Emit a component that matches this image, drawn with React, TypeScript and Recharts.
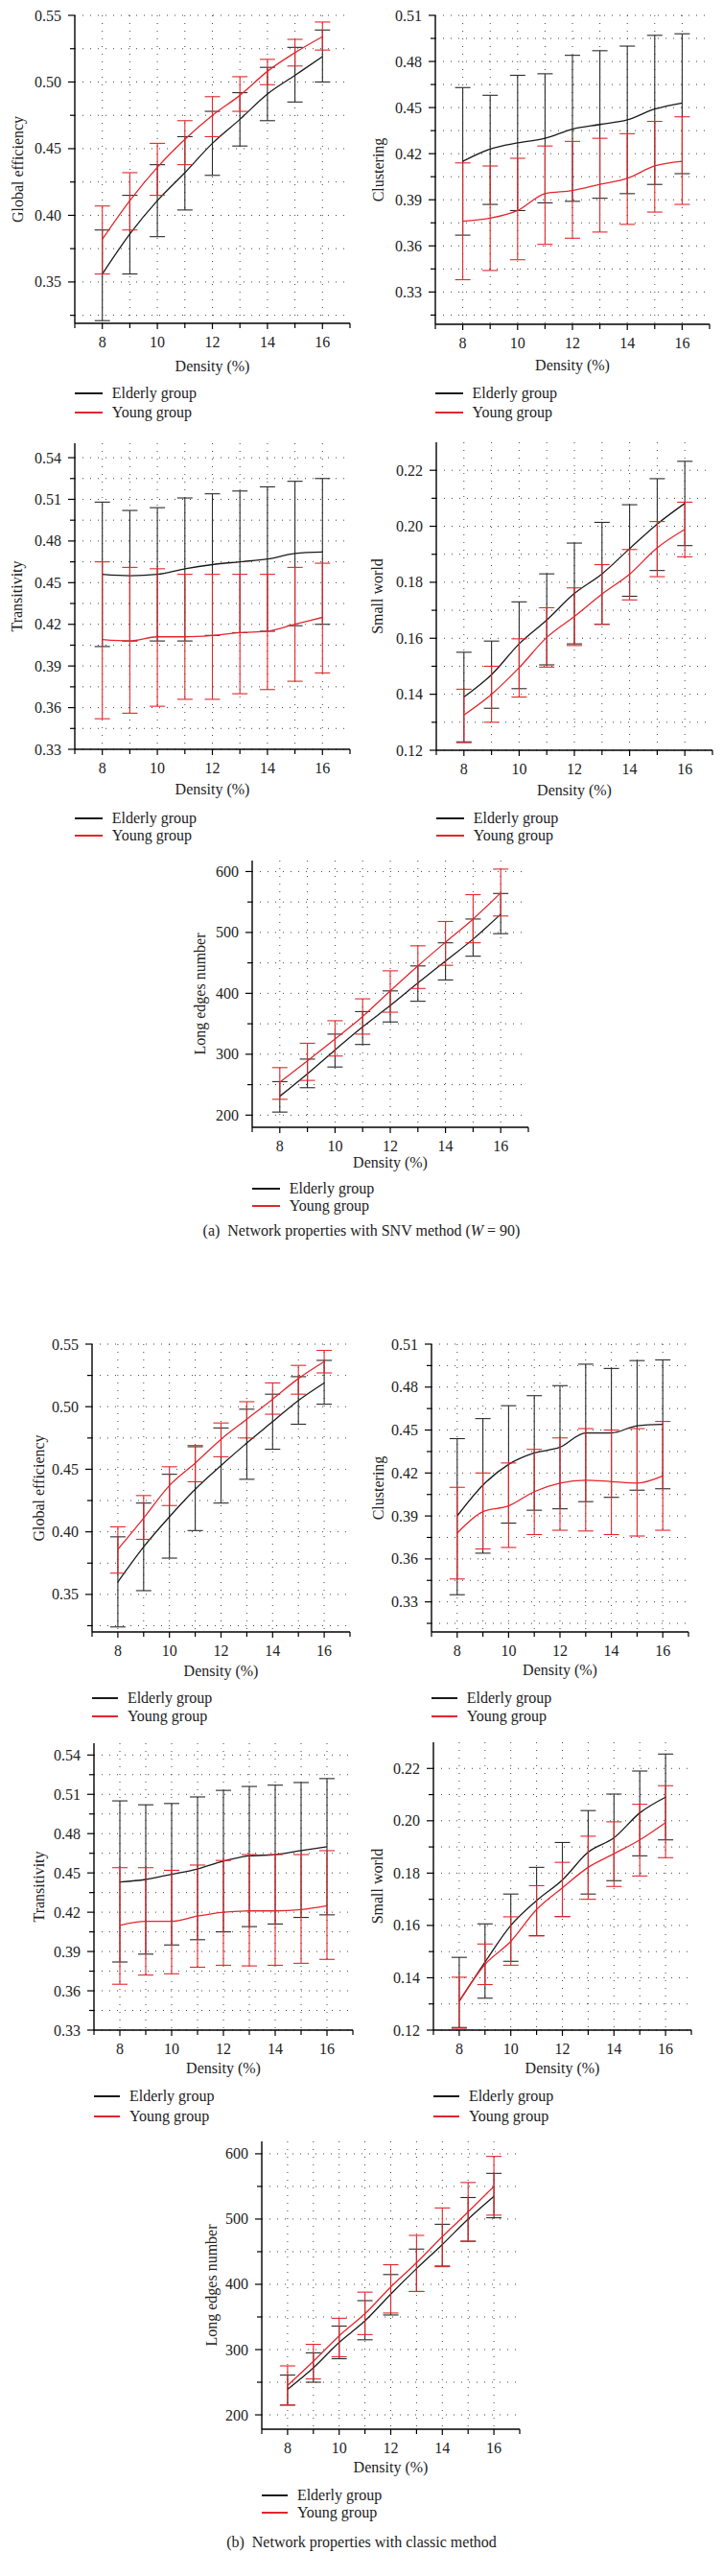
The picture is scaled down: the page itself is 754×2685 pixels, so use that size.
import React from 'react';
import { LineChart, Line, XAxis, YAxis, CartesianGrid, ErrorBar, Label } from 'recharts';

const FONT = '"Liberation Serif", "DejaVu Serif", serif';
const BLACK = '#1a1a1a';
const RED = '#e3262c';

// ---------- shared axis values ----------
const density = [8, 9, 10, 11, 12, 13, 14, 15, 16];
const densityTicks = [7, 8, 9, 10, 11, 12, 13, 14, 15, 16, 17];
const densityLabels = [8, 10, 12, 14, 16];
const densityGrid = [8, 9, 10, 11, 12, 13, 14, 15, 16];

const geMajor = [0.35, 0.4, 0.45, 0.5, 0.55];
const geMinor = [0.325, 0.375, 0.425, 0.475, 0.525];
const clMajor = [0.33, 0.36, 0.39, 0.42, 0.45, 0.48, 0.51];
const clMinor = [0.315, 0.345, 0.375, 0.405, 0.435, 0.465, 0.495];
const trMajor = [0.33, 0.36, 0.39, 0.42, 0.45, 0.48, 0.51, 0.54];
const trMinor = [0.345, 0.375, 0.405, 0.435, 0.465, 0.495, 0.525];
const swMajor = [0.12, 0.14, 0.16, 0.18, 0.2, 0.22];
const swMinor = [0.13, 0.15, 0.17, 0.19, 0.21];
const leMajor = [200, 300, 400, 500, 600];
const leMinor = [250, 350, 450, 550];

// ---------- (a) SNV method ----------
const geSnvEld = [0.356, 0.386, 0.411, 0.432, 0.454, 0.472, 0.491, 0.505, 0.519];
const geSnvEldHi = [0.389, 0.415, 0.438, 0.459, 0.478, 0.492, 0.511, 0.526, 0.539];
const geSnvEldLo = [0.321, 0.356, 0.384, 0.404, 0.43, 0.452, 0.471, 0.485, 0.5];
const geSnvYng = [0.382, 0.411, 0.436, 0.457, 0.475, 0.49, 0.508, 0.522, 0.534];
const geSnvYngHi = [0.407, 0.432, 0.454, 0.471, 0.489, 0.504, 0.517, 0.532, 0.545];
const geSnvYngLo = [0.356, 0.389, 0.415, 0.438, 0.459, 0.478, 0.498, 0.512, 0.524];

const clSnvEld = [0.415, 0.423, 0.427, 0.43, 0.436, 0.439, 0.442, 0.449, 0.453];
const clSnvEldHi = [0.463, 0.458, 0.471, 0.472, 0.484, 0.487, 0.49, 0.497, 0.498];
const clSnvEldLo = [0.367, 0.387, 0.383, 0.388, 0.389, 0.391, 0.394, 0.4, 0.407];
const clSnvYng = [0.376, 0.378, 0.383, 0.394, 0.396, 0.4, 0.404, 0.412, 0.415];
const clSnvYngHi = [0.414, 0.412, 0.417, 0.425, 0.428, 0.43, 0.433, 0.441, 0.444];
const clSnvYngLo = [0.338, 0.344, 0.351, 0.361, 0.365, 0.369, 0.374, 0.382, 0.387];

const trSnvEld = [0.456, 0.455, 0.456, 0.46, 0.463, 0.465, 0.467, 0.471, 0.472];
const trSnvEldHi = [0.508, 0.502, 0.504, 0.511, 0.514, 0.516, 0.519, 0.523, 0.525];
const trSnvEldLo = [0.404, 0.408, 0.408, 0.408, 0.412, 0.414, 0.415, 0.419, 0.42];
const trSnvYng = [0.409, 0.408, 0.411, 0.411, 0.412, 0.414, 0.415, 0.42, 0.425];
const trSnvYngHi = [0.465, 0.461, 0.46, 0.456, 0.456, 0.456, 0.456, 0.461, 0.464];
const trSnvYngLo = [0.352, 0.356, 0.361, 0.366, 0.366, 0.37, 0.373, 0.379, 0.385];

const swSnvEld = [0.139, 0.147, 0.158, 0.1665, 0.176, 0.183, 0.192, 0.2008, 0.2082];
const swSnvEldHi = [0.155, 0.159, 0.173, 0.183, 0.194, 0.2014, 0.2077, 0.217, 0.2232];
const swSnvEldLo = [0.123, 0.135, 0.142, 0.1505, 0.158, 0.165, 0.175, 0.1842, 0.1931];
const swSnvYng = [0.1326, 0.14, 0.1495, 0.1603, 0.1678, 0.1758, 0.1829, 0.1923, 0.1989];
const swSnvYngHi = [0.1418, 0.15, 0.1598, 0.1709, 0.178, 0.1863, 0.1917, 0.2017, 0.2086];
const swSnvYngLo = [0.1227, 0.13, 0.139, 0.1497, 0.1574, 0.165, 0.1737, 0.182, 0.1891];

const leSnvEld = [231, 268, 307, 345, 380, 417, 453, 489, 530];
const leSnvEldHi = [255, 292, 333, 370, 404, 445, 483, 522, 564];
const leSnvEldLo = [205, 245, 279, 316, 353, 387, 422, 461, 498];
const leSnvYng = [254, 289, 325, 362, 404, 445, 484, 522, 565];
const leSnvYngHi = [278, 318, 355, 391, 437, 478, 518, 562, 604];
const leSnvYngLo = [226, 257, 297, 333, 369, 408, 446, 483, 527];

// ---------- (b) classic method ----------
const geClsEld = [0.36, 0.388, 0.412, 0.434, 0.453, 0.471, 0.488, 0.505, 0.519];
const geClsEldHi = [0.396, 0.423, 0.446, 0.468, 0.483, 0.498, 0.51, 0.524, 0.537];
const geClsEldLo = [0.324, 0.353, 0.379, 0.401, 0.423, 0.442, 0.466, 0.486, 0.502];
const geClsYng = [0.386, 0.411, 0.437, 0.455, 0.474, 0.49, 0.506, 0.5225, 0.536];
const geClsYngHi = [0.404, 0.429, 0.452, 0.469, 0.487, 0.504, 0.519, 0.533, 0.545];
const geClsYngLo = [0.367, 0.394, 0.421, 0.44, 0.46, 0.475, 0.494, 0.51, 0.527];

const clClsEld = [0.39, 0.4115, 0.426, 0.434, 0.438, 0.448, 0.448, 0.453, 0.454];
const clClsEldHi = [0.444, 0.458, 0.467, 0.474, 0.481, 0.496, 0.493, 0.4985, 0.499];
const clClsEldLo = [0.335, 0.364, 0.385, 0.394, 0.395, 0.4, 0.403, 0.408, 0.409];
const clClsYng = [0.378, 0.393, 0.397, 0.407, 0.413, 0.415, 0.414, 0.413, 0.418];
const clClsYngHi = [0.41, 0.42, 0.427, 0.4365, 0.4445, 0.451, 0.45, 0.451, 0.456];
const clClsYngLo = [0.346, 0.367, 0.368, 0.377, 0.38, 0.3795, 0.377, 0.376, 0.38];

const trClsEld = [0.443, 0.445, 0.449, 0.453, 0.459, 0.463, 0.464, 0.467, 0.47];
const trClsEldHi = [0.505, 0.502, 0.503, 0.508, 0.513, 0.516, 0.517, 0.519, 0.522];
const trClsEldLo = [0.382, 0.388, 0.395, 0.399, 0.405, 0.409, 0.411, 0.416, 0.418];
const trClsYng = [0.41, 0.413, 0.413, 0.417, 0.42, 0.421, 0.421, 0.422, 0.425];
const trClsYngHi = [0.454, 0.454, 0.452, 0.456, 0.4595, 0.464, 0.464, 0.464, 0.467];
const trClsYngLo = [0.365, 0.372, 0.373, 0.378, 0.3795, 0.379, 0.3795, 0.381, 0.384];

const swClsEld = [0.131, 0.146, 0.16, 0.1695, 0.1774, 0.188, 0.1935, 0.203, 0.209];
const swClsEldHi = [0.1478, 0.1606, 0.172, 0.1822, 0.1917, 0.2039, 0.2102, 0.219, 0.2255];
const swClsEldLo = [0.121, 0.1322, 0.1463, 0.1561, 0.1634, 0.172, 0.1771, 0.1866, 0.1927];
const swClsYng = [0.131, 0.1451, 0.1539, 0.1661, 0.1744, 0.1822, 0.1874, 0.1927, 0.1993];
const swClsYngHi = [0.1402, 0.1529, 0.1633, 0.1752, 0.1841, 0.1941, 0.1996, 0.2063, 0.2134];
const swClsYngLo = [0.1207, 0.1374, 0.1448, 0.156, 0.1634, 0.17, 0.1749, 0.1789, 0.1859];

const leClsEld = [239, 272, 311, 344, 385, 424, 461, 500, 535];
const leClsEldHi = [261, 295, 336, 375, 415, 454, 492, 533, 570];
const leClsEldLo = [215, 250, 286, 315, 353, 389, 428, 466, 502];
const leClsYng = [245, 282, 321, 355, 396, 433, 473, 511, 550];
const leClsYngHi = [275, 308, 348, 388, 430, 475, 517, 556, 596];
const leClsYngLo = [215, 255, 289, 323, 356, 389, 427, 466, 506];

const legendNames = ['Elderly group', 'Young group'];
const xTitle = 'Density (%)';

// ---------- helpers ----------
function buildRows(eM: number[], eLo: number[], eHi: number[], yM: number[], yLo: number[], yHi: number[]) {
  return density.map((d, i) => ({
    d,
    eld: eM[i],
    eldErr: [eM[i] - eLo[i], eHi[i] - eM[i]],
    yng: yM[i],
    yngErr: [yM[i] - yLo[i], yHi[i] - yM[i]],
  }));
}

const fmt2 = (v: number) => v.toFixed(2);
const fmt0 = (v: number) => String(Math.round(v));

const XTick = (props: any) => {
  const { x, y, payload } = props;
  const v = payload.value;
  const lab = densityLabels.includes(v);
  return (
    <g>
      <line x1={x} x2={x} y1={y} y2={y + (lab ? 6 : 5)} stroke="#000" strokeWidth={1.2} />
      {lab && (
        <text x={x} y={y + 25} textAnchor="middle" fontSize={16} fontFamily={FONT} fill="#222">
          {v}
        </text>
      )}
    </g>
  );
};

const makeYTick = (major: number[], fmt: (v: number) => string) => (props: any) => {
  const { x, y, payload } = props;
  const v = payload.value;
  const isMaj = major.some((m) => Math.abs(m - v) < 1e-9);
  return (
    <g>
      <line x1={x} x2={x - (isMaj ? 7 : 5)} y1={y} y2={y} stroke="#000" strokeWidth={1.2} />
      {isMaj && (
        <text x={x - 14} y={y + 5.5} textAnchor="end" fontSize={16} fontFamily={FONT} fill="#222">
          {fmt(v)}
        </text>
      )}
    </g>
  );
};

type PanelCfg = {
  L: number; R: number; T: number; B: number;
  domain: [number, number];
  major: number[]; minor: number[];
  fmt: (v: number) => string;
  title: string; titleDx: number; densDy: number;
  legY: [number, number];
  rows: any[];
};

const panels: PanelCfg[] = [
  { L: 78, R: 365, T: 16, B: 337, domain: [0.319, 0.55], major: geMajor, minor: geMinor, fmt: fmt2, title: 'Global efficiency', titleDx: 60, densDy: 45, legY: [410, 430],
    rows: buildRows(geSnvEld, geSnvEldLo, geSnvEldHi, geSnvYng, geSnvYngLo, geSnvYngHi) },
  { L: 454, R: 740, T: 16, B: 338, domain: [0.309, 0.51], major: clMajor, minor: clMinor, fmt: fmt2, title: 'Clustering', titleDx: 60, densDy: 43, legY: [410, 430],
    rows: buildRows(clSnvEld, clSnvEldLo, clSnvEldHi, clSnvYng, clSnvYngLo, clSnvYngHi) },
  { L: 78, R: 365, T: 462, B: 781, domain: [0.33, 0.5504], major: trMajor, minor: trMinor, fmt: fmt2, title: 'Transitivity', titleDx: 61, densDy: 42, legY: [853, 871],
    rows: buildRows(trSnvEld, trSnvEldLo, trSnvEldHi, trSnvYng, trSnvYngLo, trSnvYngHi) },
  { L: 455, R: 743, T: 461, B: 782, domain: [0.12, 0.23], major: swMajor, minor: swMinor, fmt: fmt2, title: 'Small world', titleDx: 62, densDy: 42, legY: [853, 871],
    rows: buildRows(swSnvEld, swSnvEldLo, swSnvEldHi, swSnvYng, swSnvYngLo, swSnvYngHi) },
  { L: 263, R: 551, T: 897, B: 1175, domain: [180, 618], major: leMajor, minor: leMinor, fmt: fmt0, title: 'Long edges number', titleDx: 55, densDy: 37, legY: [1239, 1257],
    rows: buildRows(leSnvEld, leSnvEldLo, leSnvEldHi, leSnvYng, leSnvYngLo, leSnvYngHi) },
  { L: 96, R: 365, T: 1401, B: 1701, domain: [0.32, 0.55], major: geMajor, minor: geMinor, fmt: fmt2, title: 'Global efficiency', titleDx: 56, densDy: 41, legY: [1770, 1789],
    rows: buildRows(geClsEld, geClsEldLo, geClsEldHi, geClsYng, geClsYngLo, geClsYngHi) },
  { L: 450, R: 718, T: 1401, B: 1701, domain: [0.309, 0.51], major: clMajor, minor: clMinor, fmt: fmt2, title: 'Clustering', titleDx: 56, densDy: 40, legY: [1770, 1789],
    rows: buildRows(clClsEld, clClsEldLo, clClsEldHi, clClsYng, clClsYngLo, clClsYngHi) },
  { L: 98, R: 368, T: 1817, B: 2116, domain: [0.33, 0.549], major: trMajor, minor: trMinor, fmt: fmt2, title: 'Transitivity', titleDx: 58, densDy: 40, legY: [2185, 2206],
    rows: buildRows(trClsEld, trClsEldLo, trClsEldHi, trClsYng, trClsYngLo, trClsYngHi) },
  { L: 452, R: 721, T: 1816, B: 2116, domain: [0.12, 0.23], major: swMajor, minor: swMinor, fmt: fmt2, title: 'Small world', titleDx: 59, densDy: 40, legY: [2185, 2206],
    rows: buildRows(swClsEld, swClsEldLo, swClsEldHi, swClsYng, swClsYngLo, swClsYngHi) },
  { L: 273, R: 542, T: 2232, B: 2532, domain: [178, 619], major: leMajor, minor: leMinor, fmt: fmt0, title: 'Long edges number', titleDx: 53, densDy: 40, legY: [2601, 2619],
    rows: buildRows(leClsEld, leClsEldLo, leClsEldHi, leClsYng, leClsYngLo, leClsYngHi) },
];

const padL = 80, padT = 10, padR = 12, padB = 60;

function Panel({ p }: { p: PanelCfg }) {
  const pw = p.R - p.L;
  const ph = p.B - p.T;
  const w = pw + padL + padR;
  const h = ph + padT + padB;
  const allY = [...p.major, ...p.minor].sort((a, b) => a - b);
  const YTick = makeYTick(p.major, p.fmt);
  const unit = pw / 10;
  const legX1 = p.L;
  const legX2 = p.L + unit;
  return (
    <>
      <div style={{ position: 'absolute', left: p.L - padL, top: p.T - padT }}>
        <LineChart width={w} height={h} data={p.rows} margin={{ top: padT, right: padR, left: 0, bottom: 0 }}>
          <CartesianGrid stroke="#444" strokeWidth={1} strokeDasharray="1 7" horizontalValues={allY} verticalValues={densityGrid} />
          <XAxis
            dataKey="d" type="number" domain={[7, 17]} ticks={densityTicks} interval={0}
            tickSize={0} tickMargin={0} tickLine={false} height={padB}
            axisLine={{ stroke: '#000', strokeWidth: 1.4 }} tick={XTick} allowDataOverflow
          >
            <Label
              content={() => (
                <text x={padL + pw / 2} y={padT + ph + p.densDy + 5} textAnchor="middle" fontSize={16} fontFamily={FONT} fill="#222">
                  {xTitle}
                </text>
              )}
            />
          </XAxis>
          <YAxis
            type="number" domain={p.domain} ticks={allY} interval={0} width={padL}
            tickSize={0} tickMargin={0} tickLine={false}
            axisLine={{ stroke: '#000', strokeWidth: 1.4 }} tick={YTick} allowDataOverflow
          >
            <Label
              content={() => {
                const cx = padL - p.titleDx;
                const cy = padT + ph / 2;
                return (
                  <text x={cx} y={cy} transform={`rotate(-90 ${cx} ${cy})`} textAnchor="middle" dominantBaseline="central" fontSize={16} fontFamily={FONT} fill="#222">
                    {p.title}
                  </text>
                );
              }}
            />
          </YAxis>
          <Line dataKey="eld" type="monotone" stroke={BLACK} strokeWidth={1.3} dot={false} activeDot={false} isAnimationActive={false}>
            <ErrorBar dataKey="eldErr" width={8} stroke="#2a2a2a" strokeWidth={1.1} direction="y" isAnimationActive={false} />
          </Line>
          <Line dataKey="yng" type="monotone" stroke={RED} strokeWidth={1.3} dot={false} activeDot={false} isAnimationActive={false}>
            <ErrorBar dataKey="yngErr" width={8} stroke={RED} strokeWidth={1.1} direction="y" isAnimationActive={false} />
          </Line>
        </LineChart>
      </div>
      {legendNames.map((name, i) => (
        <div
          key={name}
          style={{ position: 'absolute', left: legX1, top: p.legY[i] - 11, height: 22, display: 'flex', alignItems: 'center', fontFamily: FONT, fontSize: 16, color: '#222', whiteSpace: 'nowrap' }}
        >
          <div style={{ width: legX2 - legX1, height: 1.4, background: i === 0 ? BLACK : RED, marginRight: 10 }} />
          <span style={{ lineHeight: '22px' }}>{name}</span>
        </div>
      ))}
    </>
  );
}

export default function App() {
  return (
    <div style={{ position: 'absolute', left: 0, top: 0, width: 754, height: 2685, background: '#fff', overflow: 'hidden' }}>
      {panels.map((p, i) => (
        <Panel key={i} p={p} />
      ))}
      <div style={{ position: 'absolute', left: 0, width: 754, top: 1283 - 11, height: 22, lineHeight: '22px', textAlign: 'center', fontFamily: FONT, fontSize: 16, color: '#222' }}>
        (a)&nbsp;&nbsp;Network properties with SNV method (<i>W</i> = 90)
      </div>
      <div style={{ position: 'absolute', left: 0, width: 754, top: 2650 - 11, height: 22, lineHeight: '22px', textAlign: 'center', fontFamily: FONT, fontSize: 16, color: '#222' }}>
        (b)&nbsp;&nbsp;Network properties with classic method
      </div>
    </div>
  );
}
